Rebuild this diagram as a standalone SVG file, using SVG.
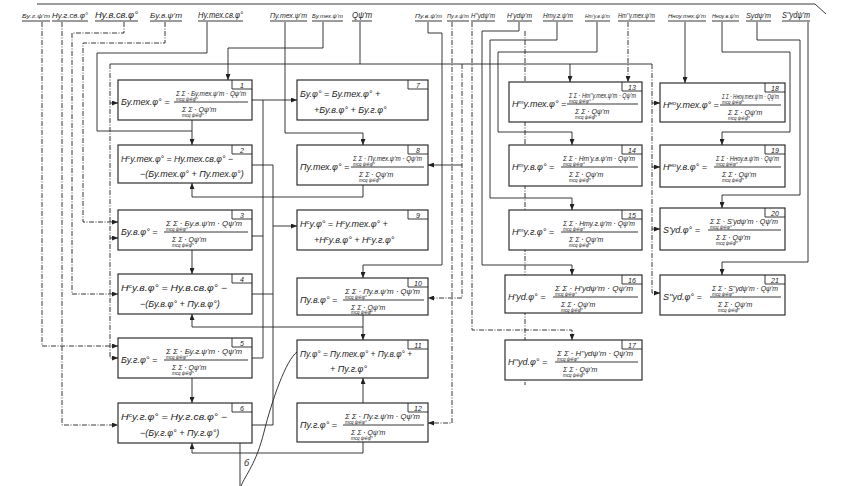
<svg xmlns="http://www.w3.org/2000/svg" width="842" height="486" viewBox="0 0 842 486">
<style>
.bx{fill:#fff;stroke:#1c1c1c;stroke-width:1.1}
.t{font-family:"Liberation Sans","DejaVu Sans",sans-serif;font-style:italic;fill:#1c1c1c}
.f{font-size:9px}
.s{font-size:7px}
.x{font-size:4.5px}
.n{font-size:7px}
.c{fill:none;stroke:#222;stroke-width:0.9}
.a{marker-end:url(#ah)}
.d{stroke-dasharray:5 1.5 1 1.5}
.u{stroke:#222;stroke-width:0.9}
</style>
<defs>
<marker id="ah" markerUnits="userSpaceOnUse" markerWidth="6" markerHeight="5" refX="6" refY="2.5" orient="auto"><path d="M0,0L6,2.5L0,5z" fill="#222"/></marker>
</defs>
<rect width="842" height="486" fill="#fff"/>

<g id="labels">
<path class="c" d="M37,4H815L826,14"/>
<text class="t" x="22" y="18" font-size="6" textLength="28" lengthAdjust="spacingAndGlyphs">Бу.г.ψ'm</text>
<text class="t" x="52" y="18" font-size="7.2" textLength="36" lengthAdjust="spacingAndGlyphs">Ну.г.св.φ°</text>
<text class="t" x="95" y="18" font-size="8.5" textLength="43" lengthAdjust="spacingAndGlyphs">Ну.в.св.φ°</text>
<text class="t" x="150" y="18" font-size="8" textLength="32" lengthAdjust="spacingAndGlyphs">Бу.в.ψ'm</text>
<text class="t" x="198" y="18" font-size="8.5" textLength="45" lengthAdjust="spacingAndGlyphs">Ну.тех.св.φ°</text>
<text class="t" x="270" y="18" font-size="6.4" textLength="37" lengthAdjust="spacingAndGlyphs">Пу.тех.ψ'm</text>
<text class="t" x="312" y="18" font-size="6.2" textLength="31" lengthAdjust="spacingAndGlyphs">Бу.тех.ψ'm</text>
<text class="t" x="352" y="18" font-size="8.5" textLength="20" lengthAdjust="spacingAndGlyphs">Qψ'm</text>
<text class="t" x="415" y="18" font-size="6.1" textLength="27" lengthAdjust="spacingAndGlyphs">Пу.в.ψ'm</text>
<text class="t" x="447" y="18" font-size="4.7" textLength="22" lengthAdjust="spacingAndGlyphs">Пу.г.ψ'm</text>
<text class="t" x="471" y="18" font-size="7.1" textLength="24" lengthAdjust="spacingAndGlyphs">Н''уdψ'm</text>
<text class="t" x="507" y="18" font-size="7.5" textLength="25" lengthAdjust="spacingAndGlyphs">Н'уdψ'm</text>
<text class="t" x="543" y="18" font-size="7.5" textLength="30" lengthAdjust="spacingAndGlyphs">Нту.г.ψ'm</text>
<text class="t" x="585" y="18" font-size="5.4" textLength="25" lengthAdjust="spacingAndGlyphs">Нт'у.в.ψ'm</text>
<text class="t" x="618" y="18" font-size="6.6" textLength="37" lengthAdjust="spacingAndGlyphs">Нт''у.тех.ψ'm</text>
<text class="t" x="668" y="18" font-size="5.5" textLength="38" lengthAdjust="spacingAndGlyphs">Нноу.тех.ψ'm</text>
<text class="t" x="712" y="18" font-size="5" textLength="27" lengthAdjust="spacingAndGlyphs">Нноу.в.ψ'm</text>
<text class="t" x="746" y="18" font-size="8" textLength="25" lengthAdjust="spacingAndGlyphs">Sуdψ'm</text>
<text class="t" x="782" y="18" font-size="8.5" textLength="28" lengthAdjust="spacingAndGlyphs">S''уdψ'm</text>
<path class="u" d="M22,21H50M52,21H88M95,21H138M150,21H182M198,21H243M270,21H307M312,21H343M352,21H372M415,21H442M447,21H469M471,21H495M507,21H532M543,21H573M585,21H610M618,21H655M668,21H706M712,21H739M746,21H771M782,21H810"/>
</g>

<g id="connectors">
<path class="c d a" d="M42,22V346H118"/>
<path class="c d a" d="M62,22V425H118"/>
<path class="c d a" d="M124,22V33H72V294H118"/>
<path class="c d a" d="M165,22V43H83V222H118"/>
<path class="c a" d="M207,22V53H97V131H192V145"/>
<path class="c a" d="M323,22V48H228V80"/>
<path class="c a" d="M285,22V133H363V145"/>
<path class="c" d="M360,22V64M110,64H652"/>
<path class="c d a" d="M110,64V358H118"/>
<path class="c a" d="M110,103H118"/>
<path class="c a" d="M110,238H118"/>
<path class="c a" d="M570,64V82"/>
<path class="c d a" d="M462,64V298H428"/>
<path class="c a" d="M462,165H428"/>
<path class="c d a" d="M652,64V293H660"/>
<path class="c a" d="M652,103H660"/>
<path class="c a" d="M652,167H660"/>
<path class="c a" d="M652,229H660"/>
<path class="c a" d="M428,22V33H442V265H363V278"/>
<path class="c d a" d="M452,22V423H428"/>
<path class="c d a" d="M472,22V330H572V340"/>
<path class="c a" d="M519,22V31H482V265H572V275"/>
<path class="c d" d="M525,31V385"/>
<path class="c a" d="M557,22V40H490V198H572V210"/>
<path class="c a" d="M597,22V52H498V132H572V145"/>
<path class="c d a" d="M628,22V82"/>
<path class="c a" d="M685,22V83"/>
<path class="c a" d="M722,22V52H790V132H722V145"/>
<path class="c a" d="M757,22V40H800V195H722V208"/>
<path class="c a" d="M808,22V262H722V275"/>
<path class="c a" d="M252,100H297"/>
<path class="c" d="M252,236H263M252,358H263V100"/>
<path class="c" d="M252,165H273M252,294H273M252,425H273V165"/>
<path class="c a" d="M273,226H297"/>
<path class="c" d="M192,119V131"/>
<path class="c a" d="M192,250V274"/>
<path class="c a" d="M192,377V403"/>
<path class="c a" d="M363,185V197H192V183"/>
<path class="c a" d="M363,315V327H192V314"/>
<path class="c a" d="M363,327V340"/>
<path class="c a" d="M363,403V378"/>
<path class="c a" d="M363,442V453H192V443"/>
<path class="c" d="M297,352C286,360 272,400 264,432S246,474 241,486"/>
<path class="c" d="M240,440V486"/>
<text class="t f" x="244" y="466">б</text>
</g>

<g id="n1"><rect class="bx" x="118" y="80" width="134" height="40"/><path class="c" d="M232,80V89H252"/><text class="t n" x="242" y="87.5" text-anchor="middle">1</text>
<text class="t f" x="121" y="105">Бу.тех.φ° =</text><line class="u" x1="174" y1="102" x2="248" y2="102"/>
<text class="t s"><tspan x="176" y="96" textLength="70" lengthAdjust="spacingAndGlyphs">Σ Σ · Бу.тех.ψ'm · Qψ'm</tspan><tspan class="x" x="176" y="100.5">mсq ψ∈φ°</tspan></text>
<text class="t s"><tspan x="182" y="112">Σ Σ · Qψ'm</tspan><tspan class="x" x="182" y="117">mсq ψ∈φ°</tspan></text></g>

<g id="n2"><rect class="bx" x="118" y="145" width="134" height="38"/><path class="c" d="M232,145V154H252"/><text class="t n" x="242" y="152.5" text-anchor="middle">2</text>
<text class="t f" x="121" y="162" textLength="112" lengthAdjust="spacingAndGlyphs">Н<tspan dy="-3.5" font-size="6">с</tspan><tspan dy="3.5">у.тех.φ° = Ну.тех.св.φ° −</tspan></text>
<text class="t f" x="140" y="177">−(Бу.тех.φ° + Пу.тех.φ°)</text></g>

<g id="n3"><rect class="bx" x="118" y="210" width="134" height="40"/><path class="c" d="M232,210V219H252"/><text class="t n" x="242" y="217.5" text-anchor="middle">3</text>
<text class="t f" x="121" y="235">Бу.в.φ° =</text><line class="u" x1="164" y1="232" x2="248" y2="232"/>
<text class="t s"><tspan x="166" y="226" textLength="76" lengthAdjust="spacingAndGlyphs">Σ Σ · Бу.в.ψ'm · Qψ'm</tspan><tspan class="x" x="166" y="230.5">mсq ψ∈φ°</tspan></text>
<text class="t s"><tspan x="172" y="242">Σ Σ · Qψ'm</tspan><tspan class="x" x="172" y="247">mсq ψ∈φ°</tspan></text></g>

<g id="n4"><rect class="bx" x="118" y="274" width="134" height="40"/><path class="c" d="M232,274V283H252"/><text class="t n" x="242" y="281.5" text-anchor="middle">4</text>
<text class="t f" x="121" y="291" textLength="106" lengthAdjust="spacingAndGlyphs">Н<tspan dy="-3.5" font-size="6">с</tspan><tspan dy="3.5">у.в.φ° = Ну.в.св.φ° −</tspan></text>
<text class="t f" x="140" y="307">−(Бу.в.φ° + Пу.в.φ°)</text></g>

<g id="n5"><rect class="bx" x="118" y="338" width="134" height="40"/><path class="c" d="M232,338V347H252"/><text class="t n" x="242" y="345.5" text-anchor="middle">5</text>
<text class="t f" x="121" y="363">Бу.г.φ° =</text><line class="u" x1="164" y1="360" x2="248" y2="360"/>
<text class="t s"><tspan x="166" y="354" textLength="76" lengthAdjust="spacingAndGlyphs">Σ Σ · Бу.г.ψ'm · Qψ'm</tspan><tspan class="x" x="166" y="358.5">mсq ψ∈φ°</tspan></text>
<text class="t s"><tspan x="172" y="370">Σ Σ · Qψ'm</tspan><tspan class="x" x="172" y="375">mсq ψ∈φ°</tspan></text></g>

<g id="n6"><rect class="bx" x="118" y="403" width="134" height="40"/><path class="c" d="M232,403V412H252"/><text class="t n" x="242" y="410.5" text-anchor="middle">6</text>
<text class="t f" x="121" y="420" textLength="106" lengthAdjust="spacingAndGlyphs">Н<tspan dy="-3.5" font-size="6">с</tspan><tspan dy="3.5">у.г.φ° = Ну.г.св.φ° −</tspan></text>
<text class="t f" x="140" y="436">−(Бу.г.φ° + Пу.г.φ°)</text></g>

<g id="n7"><rect class="bx" x="297" y="80" width="131" height="40"/><path class="c" d="M408,80V89H428"/><text class="t n" x="418" y="87.5" text-anchor="middle">7</text>
<text class="t f" x="300" y="97">Бу.φ° = Бу.тех.φ° +</text>
<text class="t f" x="314" y="113">+Бу.в.φ° + Бу.г.φ°</text></g>

<g id="n8"><rect class="bx" x="297" y="145" width="131" height="40"/><path class="c" d="M408,145V154H428"/><text class="t n" x="418" y="152.5" text-anchor="middle">8</text>
<text class="t f" x="300" y="170">Пу.тех.φ° =</text><line class="u" x1="351" y1="167" x2="424" y2="167"/>
<text class="t s"><tspan x="353" y="161" textLength="69" lengthAdjust="spacingAndGlyphs">Σ Σ · Пу.тех.ψ'm · Qψ'm</tspan><tspan class="x" x="353" y="165.5">mсq ψ∈φ°</tspan></text>
<text class="t s"><tspan x="359" y="177">Σ Σ · Qψ'm</tspan><tspan class="x" x="359" y="182">mсq ψ∈φ°</tspan></text></g>

<g id="n9"><rect class="bx" x="297" y="210" width="131" height="40"/><path class="c" d="M408,210V219H428"/><text class="t n" x="418" y="217.5" text-anchor="middle">9</text>
<text class="t f" x="300" y="227">Н<tspan dy="-3.5" font-size="6">с</tspan><tspan dy="3.5">у.φ° = Н</tspan><tspan dy="-3.5" font-size="6">с</tspan><tspan dy="3.5">у.тех.φ° +</tspan></text>
<text class="t f" x="314" y="243">+Н<tspan dy="-3.5" font-size="6">с</tspan><tspan dy="3.5">у.в.φ° + Н</tspan><tspan dy="-3.5" font-size="6">с</tspan><tspan dy="3.5">у.г.φ°</tspan></text></g>

<g id="n10"><rect class="bx" x="297" y="278" width="131" height="37"/><path class="c" d="M408,278V287H428"/><text class="t n" x="418" y="285.5" text-anchor="middle">10</text>
<text class="t f" x="300" y="303">Пу.в.φ° =</text><line class="u" x1="343" y1="300" x2="424" y2="300"/>
<text class="t s"><tspan x="345" y="294" textLength="75" lengthAdjust="spacingAndGlyphs">Σ Σ · Пу.в.ψ'm · Qψ'm</tspan><tspan class="x" x="345" y="298.5">mсq ψ∈φ°</tspan></text>
<text class="t s"><tspan x="351" y="309.5">Σ Σ · Qψ'm</tspan><tspan class="x" x="351" y="314">mсq ψ∈φ°</tspan></text></g>

<g id="n11"><rect class="bx" x="297" y="340" width="131" height="38"/><path class="c" d="M408,340V349H428"/><text class="t n" x="418" y="347.5" text-anchor="middle">11</text>
<text class="t f" x="300" y="357" textLength="112" lengthAdjust="spacingAndGlyphs">Пу.φ° = Пу.тех.φ° + Пу.в.φ° +</text>
<text class="t f" x="330" y="372">+ Пу.г.φ°</text></g>

<g id="n12"><rect class="bx" x="297" y="403" width="131" height="39"/><path class="c" d="M408,403V412H428"/><text class="t n" x="418" y="410.5" text-anchor="middle">12</text>
<text class="t f" x="300" y="428">Пу.г.φ° =</text><line class="u" x1="343" y1="425" x2="424" y2="425"/>
<text class="t s"><tspan x="345" y="419" textLength="75" lengthAdjust="spacingAndGlyphs">Σ Σ · Пу.г.ψ'm · Qψ'm</tspan><tspan class="x" x="345" y="423.5">mсq ψ∈φ°</tspan></text>
<text class="t s"><tspan x="351" y="435">Σ Σ · Qψ'm</tspan><tspan class="x" x="351" y="440">mсq ψ∈φ°</tspan></text></g>

<g id="n13"><rect class="bx" x="509" y="82" width="133" height="40"/><path class="c" d="M622,82V91H642"/><text class="t n" x="632" y="89.5" text-anchor="middle">13</text>
<text class="t f" x="512" y="107">Н<tspan dy="-3.5" font-size="6">т</tspan><tspan dy="3.5">у.тех.φ° =</tspan></text><line class="u" x1="567" y1="104" x2="638" y2="104"/>
<text class="t s"><tspan x="569" y="98" textLength="67" lengthAdjust="spacingAndGlyphs">Σ Σ · Нт''у.тех.ψ'm · Qψ'm</tspan><tspan class="x" x="569" y="102.5">mсq ψ∈φ°</tspan></text>
<text class="t s"><tspan x="575" y="114">Σ Σ · Qψ'm</tspan><tspan class="x" x="575" y="119">mсq ψ∈φ°</tspan></text></g>

<g id="n14"><rect class="bx" x="509" y="145" width="133" height="41"/><path class="c" d="M622,145V154H642"/><text class="t n" x="632" y="152.5" text-anchor="middle">14</text>
<text class="t f" x="512" y="170">Н<tspan dy="-3.5" font-size="6">т</tspan><tspan dy="3.5">у.в.φ° =</tspan></text><line class="u" x1="561" y1="167" x2="638" y2="167"/>
<text class="t s"><tspan x="563" y="161" textLength="72" lengthAdjust="spacingAndGlyphs">Σ Σ · Нт'у.в.ψ'm · Qψ'm</tspan><tspan class="x" x="563" y="165.5">mсq ψ∈φ°</tspan></text>
<text class="t s"><tspan x="569" y="177">Σ Σ · Qψ'm</tspan><tspan class="x" x="569" y="182">mсq ψ∈φ°</tspan></text></g>

<g id="n15"><rect class="bx" x="509" y="210" width="133" height="40"/><path class="c" d="M622,210V219H642"/><text class="t n" x="632" y="217.5" text-anchor="middle">15</text>
<text class="t f" x="512" y="235">Н<tspan dy="-3.5" font-size="6">т</tspan><tspan dy="3.5">у.г.φ° =</tspan></text><line class="u" x1="561" y1="232" x2="638" y2="232"/>
<text class="t s"><tspan x="563" y="226" textLength="72" lengthAdjust="spacingAndGlyphs">Σ Σ · Нту.г.ψ'm · Qψ'm</tspan><tspan class="x" x="563" y="230.5">mсq ψ∈φ°</tspan></text>
<text class="t s"><tspan x="569" y="242">Σ Σ · Qψ'm</tspan><tspan class="x" x="569" y="247">mсq ψ∈φ°</tspan></text></g>

<g id="n16"><rect class="bx" x="505" y="275" width="137" height="38"/><path class="c" d="M622,275V284H642"/><text class="t n" x="632" y="282.5" text-anchor="middle">16</text>
<text class="t f" x="508" y="300">Н'уd.φ° =</text><line class="u" x1="553" y1="297" x2="638" y2="297"/>
<text class="t s"><tspan x="555" y="291" textLength="78" lengthAdjust="spacingAndGlyphs">Σ Σ · Н'уdψ'm · Qψ'm</tspan><tspan class="x" x="555" y="295.5">mсq ψ∈φ°</tspan></text>
<text class="t s"><tspan x="561" y="307">Σ Σ · Qψ'm</tspan><tspan class="x" x="561" y="311.5">mсq ψ∈φ°</tspan></text></g>

<g id="n17"><rect class="bx" x="505" y="340" width="137" height="40"/><path class="c" d="M622,340V349H642"/><text class="t n" x="632" y="347.5" text-anchor="middle">17</text>
<text class="t f" x="508" y="365">Н''уd.φ° =</text><line class="u" x1="555" y1="362" x2="638" y2="362"/>
<text class="t s"><tspan x="557" y="356" textLength="76" lengthAdjust="spacingAndGlyphs">Σ Σ · Н''уdψ'm · Qψ'm</tspan><tspan class="x" x="557" y="360.5">mсq ψ∈φ°</tspan></text>
<text class="t s"><tspan x="563" y="372">Σ Σ · Qψ'm</tspan><tspan class="x" x="563" y="377">mсq ψ∈φ°</tspan></text></g>

<g id="n18"><rect class="bx" x="660" y="83" width="125" height="39"/><path class="c" d="M765,83V92H785"/><text class="t n" x="775" y="90.5" text-anchor="middle">18</text>
<text class="t f" x="663" y="108">Н<tspan dy="-3.5" font-size="6">но</tspan><tspan dy="3.5">у.тех.φ° =</tspan></text><line class="u" x1="720" y1="105" x2="781" y2="105"/>
<text class="t s"><tspan x="722" y="99" textLength="57" lengthAdjust="spacingAndGlyphs">Σ Σ · Нноу.тех.ψ'm · Qψ'm</tspan><tspan class="x" x="722" y="103.5">mсq ψ∈φ°</tspan></text>
<text class="t s"><tspan x="728" y="115">Σ Σ · Qψ'm</tspan><tspan class="x" x="728" y="120">mсq ψ∈φ°</tspan></text></g>

<g id="n19"><rect class="bx" x="660" y="145" width="125" height="42"/><path class="c" d="M765,145V154H785"/><text class="t n" x="775" y="152.5" text-anchor="middle">19</text>
<text class="t f" x="663" y="170">Н<tspan dy="-3.5" font-size="6">но</tspan><tspan dy="3.5">у.в.φ° =</tspan></text><line class="u" x1="714" y1="167" x2="781" y2="167"/>
<text class="t s"><tspan x="716" y="161" textLength="63" lengthAdjust="spacingAndGlyphs">Σ Σ · Нноу.в.ψ'm · Qψ'm</tspan><tspan class="x" x="716" y="165.5">mсq ψ∈φ°</tspan></text>
<text class="t s"><tspan x="722" y="177">Σ Σ · Qψ'm</tspan><tspan class="x" x="722" y="182">mсq ψ∈φ°</tspan></text></g>

<g id="n20"><rect class="bx" x="660" y="208" width="125" height="42"/><path class="c" d="M765,208V217H785"/><text class="t n" x="775" y="215.5" text-anchor="middle">20</text>
<text class="t f" x="663" y="233">S'уd.φ° =</text><line class="u" x1="708" y1="230" x2="781" y2="230"/>
<text class="t s"><tspan x="710" y="224" textLength="68" lengthAdjust="spacingAndGlyphs">Σ Σ · S'уdψ'm · Qψ'm</tspan><tspan class="x" x="710" y="228.5">mсq ψ∈φ°</tspan></text>
<text class="t s"><tspan x="716" y="240">Σ Σ · Qψ'm</tspan><tspan class="x" x="716" y="245">mсq ψ∈φ°</tspan></text></g>

<g id="n21"><rect class="bx" x="660" y="275" width="125" height="40"/><path class="c" d="M765,275V284H785"/><text class="t n" x="775" y="282.5" text-anchor="middle">21</text>
<text class="t f" x="663" y="300">S''уd.φ° =</text><line class="u" x1="710" y1="297" x2="781" y2="297"/>
<text class="t s"><tspan x="712" y="291" textLength="66" lengthAdjust="spacingAndGlyphs">Σ Σ · S''уdψ'm · Qψ'm</tspan><tspan class="x" x="712" y="295.5">mсq ψ∈φ°</tspan></text>
<text class="t s"><tspan x="718" y="307">Σ Σ · Qψ'm</tspan><tspan class="x" x="718" y="312">mсq ψ∈φ°</tspan></text></g>
</svg>
